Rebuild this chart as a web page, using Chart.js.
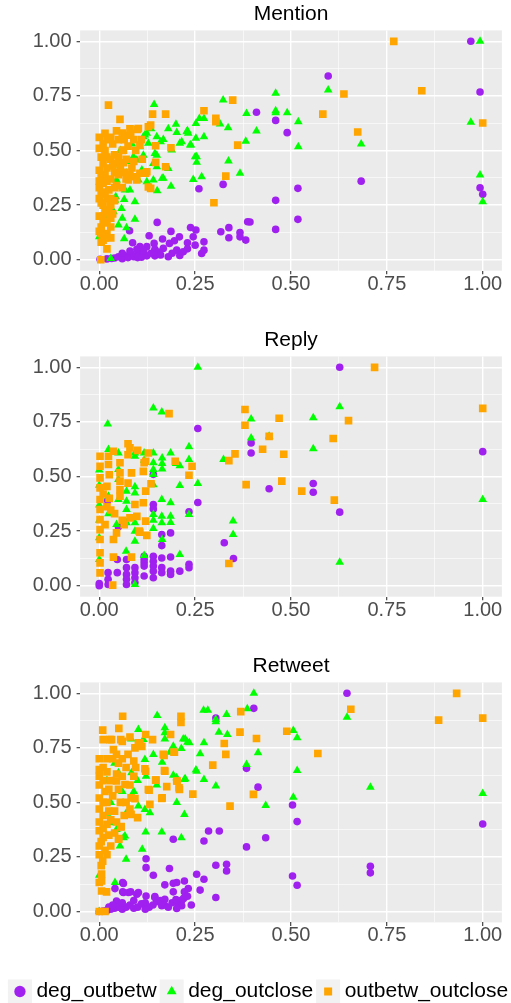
<!DOCTYPE html>
<html>
<head>
<meta charset="utf-8">
<script src="https://cdn.jsdelivr.net/npm/chart.js@4.4.1/dist/chart.umd.min.js"></script>
<style>
  html, body { margin: 0; padding: 0; background: #fff; overflow: hidden; width: 511px; height: 1003px; }
  .panel { position: absolute; left: 0; }
</style>
</head>
<body>
<div class="panel" style="top:0px"><canvas id="mention" width="511" height="326"></canvas></div>
<div class="panel" style="top:326.4px"><canvas id="reply" width="511" height="326"></canvas></div>
<div class="panel" style="top:652.4px"><canvas id="retweet" width="522" height="360"></canvas></div>
<script>
// --- data: [x, y] pairs ---
const seriesNames = ['deg_outbetw', 'deg_outclose', 'outbetw_outclose'];
const majorTicks = [0, 0.25, 0.5, 0.75, 1];
const minorTicks = [0.125, 0.375, 0.625, 0.875];

const mentionDegOutbetw = [
  [0.969,1.0],[0.597,0.841],[0.993,0.768],[0.41,0.675],[0.46,0.638],[0.49,0.582],[0.683,0.36],[0.518,0.327],
  [0.46,0.272],[0.393,0.173],[0.518,0.185],[0.46,0.139],[0.993,0.33],[1.0,0.30],
  [0.323,0.345],[0.26,0.325],[0.151,0.171],[0.387,0.174],[0.317,0.128],[0.338,0.147],[0.338,0.101],[0.367,0.125],
  [0.367,0.105],[0.382,0.09],[0.079,0.133],[0.13,0.11],[0.187,0.13],[0.165,0.095],[0.238,0.148],[0.252,0.136],
  [0.209,0.105],[0.196,0.087],[0.183,0.075],[0.143,0.075],[0.245,0.105],[0.23,0.078],[0.25,0.067],[0.273,0.082],
  [0.273,0.044],[0.267,0.029],[0.202,0.044],[0.219,0.037],[0.087,0.078],[0.002,0.002],[0.032,0.006],[0.05,0.014],
  [0.067,0.018],[0.084,0.026],[0.102,0.034],[0.124,0.06],[0.106,0.06],[0.145,0.048],[0.167,0.052],[0.18,0.014],
  [0.145,0.018],[0.124,0.018],[0.06,0.005],[0.075,0.01],[0.09,0.014],[0.11,0.012],[0.135,0.03],[0.155,0.035],
  [0.19,0.03],[0.21,0.02],[0.23,0.05],[0.04,0.008],[0.02,0.004],[0.098,0.048],[0.116,0.04],[0.06,0.03],
  [0.08,0.04],[0.16,0.022],[0.1,0.01]
];
const mentionDegOutclose = [
  [0.993,1.0],[0.597,0.777],[0.46,0.762],[0.46,0.682],[0.46,0.673],[0.49,0.673],[0.384,0.67],[0.519,0.632],
  [0.41,0.589],[0.969,0.629],[0.519,0.517],[0.683,0.53],[0.993,0.388],[1.0,0.266],[0.143,0.711],[0.323,0.731],
  [0.261,0.647],[0.273,0.647],[0.315,0.621],[0.336,0.604],[0.382,0.542],[0.367,0.396],[0.337,0.452],[0.267,0.38],
  [0.245,0.368],[0.254,0.472],[0.254,0.446],[0.239,0.525],[0.23,0.591],[0.232,0.579],[0.273,0.563],[0.252,0.556],
  [0.252,0.624],[0.215,0.54],[0.202,0.583],[0.21,0.533],[0.189,0.502],[0.167,0.551],[0.15,0.563],[0.18,0.418],
  [0.167,0.373],[0.187,0.337],[0.141,0.365],[0.151,0.316],[0.124,0.357],[0.124,0.579],[0.145,0.487],[0.141,0.441],
  [0.093,0.266],[0.093,0.186],[0.067,0.319],[0.08,0.319],[0.065,0.276],[0.058,0.235],[0.06,0.19],[0.05,0.159],
  [0.071,0.147],[0.065,0.096],[0.041,0.273],[0.037,0.22],[0.03,0.006],[0.089,0.472],[0.098,0.457],[0.106,0.517],
  [0.115,0.563],[0.045,0.365],[0.041,0.334],[0.071,0.396],[0.0,0.105],[0.119,0.571],[0.128,0.533],[0.115,0.479],
  [0.15,0.479],[0.15,0.426],[0.111,0.411],[0.102,0.365],[0.05,0.434],[0.043,0.289],[0.228,0.586],[0.237,0.525],
  [0.25,0.472],[0.164,0.373],[0.2,0.62],[0.18,0.6],[0.16,0.54],[0.135,0.6],[0.03,0.24],[0.02,0.2],
  [0.01,0.12],[0.055,0.5],[0.075,0.45],[0.085,0.53]
];
const mentionOutbetwOutclose = [
  [0.768,1.0],[0.638,0.759],[0.841,0.774],[0.583,0.667],[0.674,0.585],[1.0,0.626],[0.024,0.708],[0.054,0.643],
  [0.139,0.667],[0.173,0.667],[0.273,0.682],[0.348,0.731],[0.304,0.647],[0.304,0.632],[0.361,0.525],[0.33,0.383],
  [0.299,0.261],[0.187,0.513],[0.173,0.426],[0.147,0.522],[0.147,0.446],[0.134,0.617],[0.128,0.609],[0.102,0.601],
  [0.134,0.327],[0.128,0.333],[0.121,0.396],[0.106,0.396],[0.112,0.46],[0.106,0.525],[0.099,0.597],[0.082,0.579],
  [0.076,0.365],[0.098,0.365],[0.124,0.403],[0.063,0.444],[0.063,0.502],[0.015,0.579],[0.004,0.0],
  [0.005,0.12],[0.01,0.09],[0.005,0.15],[0.02,0.17],[0.01,0.2],[0.015,0.23],[0.005,0.26],[0.02,0.28],
  [0.03,0.25],[0.035,0.21],[0.005,0.3],[0.0,0.33],[0.01,0.35],[0.005,0.38],[0.02,0.36],[0.0,0.41],
  [0.01,0.44],[0.02,0.42],[0.005,0.47],[0.015,0.5],[0.0,0.51],[0.03,0.46],[0.04,0.48],[0.04,0.4],
  [0.035,0.53],[0.02,0.55],[0.05,0.55],[0.06,0.58],[0.06,0.5],[0.055,0.42],[0.07,0.46],[0.045,0.34],
  [0.05,0.39],[0.025,0.32],[0.03,0.15],[0.04,0.27],[0.08,0.6],[0.09,0.55],[0.075,0.52],[0.085,0.42],
  [0.09,0.38],[0.07,0.37],[0.06,0.33],[0.02,0.05],[0.03,0.1],
  [0.0,0.56],[0.01,0.53],[0.03,0.56],[0.045,0.59],[0.02,0.47],[0.035,0.43],[0.045,0.44],[0.015,0.39],
  [0.03,0.37],[0.0,0.36],[0.04,0.33],[0.015,0.31],[0.0,0.28],[0.03,0.28],[0.01,0.25],[0.025,0.22],
  [0.0,0.2],[0.01,0.17],[0.03,0.19],[0.0,0.13],[0.02,0.12],[0.015,0.1],[0.005,0.08],[0.065,0.55],
  [0.05,0.47],[0.065,0.4],[0.08,0.39],[0.075,0.57],[0.095,0.5],[0.11,0.55],[0.09,0.45]
];

const replyDegOutbetw = [
  [0.627,1.0],[0.396,0.654],[0.396,0.608],[0.443,0.444],[0.558,0.468],[0.558,0.428],[0.627,0.337],[1.0,0.614],
  [0.257,0.72],[0.257,0.381],[0.234,0.339],[0.326,0.197],[0.35,0.125],[0.141,0.372],[0.141,0.352],[0.163,0.235],
  [0.186,0.242],[0.163,0.184],[0.0,0.01],[0.0,0.0],[0.023,0.06],[0.023,0.03],[0.023,0.006],[0.047,0.12],
  [0.047,0.06],[0.071,0.12],[0.071,0.083],[0.071,0.052],[0.071,0.03],[0.071,0.006],[0.093,0.083],[0.093,0.06],
  [0.093,0.037],[0.093,0.015],[0.117,0.135],[0.117,0.12],[0.117,0.105],[0.117,0.09],[0.117,0.045],[0.141,0.135],
  [0.141,0.112],[0.141,0.09],[0.141,0.067],[0.141,0.037],[0.163,0.127],[0.163,0.083],[0.163,0.06],[0.186,0.132],
  [0.186,0.067],[0.186,0.052],[0.21,0.067],[0.234,0.098],[0.234,0.083],[0.141,0.51],[0.022,0.39],[0.05,0.27]
];
const replyDegOutclose = [
  [0.627,0.819],[0.558,0.769],[0.396,0.764],[0.396,0.677],[0.443,0.684],[0.558,0.627],[1.0,0.395],[0.627,0.108],
  [0.257,1.0],[0.141,0.814],[0.163,0.796],[0.022,0.741],[0.234,0.636],[0.234,0.578],[0.21,0.55],[0.186,0.608],
  [0.164,0.585],[0.164,0.56],[0.164,0.535],[0.141,0.608],[0.141,0.563],[0.141,0.532],[0.141,0.509],[0.141,0.463],
  [0.21,0.459],[0.257,0.468],[0.186,0.38],[0.163,0.395],[0.186,0.318],[0.186,0.29],[0.163,0.288],[0.163,0.318],
  [0.141,0.326],[0.141,0.3],[0.141,0.262],[0.164,0.212],[0.234,0.326],[0.21,0.143],[0.117,0.139],[0.093,0.204],
  [0.093,0.25],[0.093,0.288],[0.093,0.453],[0.093,0.425],[0.071,0.387],[0.071,0.433],[0.071,0.349],[0.07,0.158],
  [0.045,0.28],[0.093,0.006],[0.324,0.578],[0.349,0.296],[0.349,0.235],[0.093,0.593],[0.093,0.608],[0.117,0.608],
  [0.024,0.624],[0.05,0.608],[0.05,0.532],[0.05,0.486],[0.05,0.395],[0.0,0.53],[0.0,0.46],[0.0,0.37],
  [0.0,0.3],[0.0,0.22],[0.0,0.12],[0.024,0.41],[0.024,0.33],[0.071,0.288],[0.117,0.575],[0.2,0.56]
];
const replyOutbetwOutclose = [
  [0.718,1.0],[1.0,0.812],[0.469,0.767],[0.65,0.756],[0.443,0.684],[0.61,0.674],[0.426,0.625],[0.481,0.602],
  [0.476,0.479],[0.528,0.433],[0.613,0.392],[0.182,0.788],[0.38,0.807],[0.38,0.735],[0.354,0.604],[0.338,0.573],
  [0.383,0.463],[0.338,0.102],[0.234,0.506],[0.242,0.547],[0.198,0.57],[0.135,0.467],[0.121,0.433],[0.121,0.296],
  [0.124,0.231],[0.106,0.245],[0.084,0.131],[0.037,0.131],[0.035,0.003],[0.08,0.631],[0.128,0.608],[0.121,0.57],
  [0.115,0.524],[0.084,0.517],[0.093,0.372],[0.08,0.311],[0.098,0.318],[0.115,0.38],[0.065,0.28],[0.104,0.25],
  [0.045,0.242],[0.037,0.212],[0.117,0.563],[0.054,0.563],[0.054,0.517],[0.054,0.479],[0.054,0.44],[0.054,0.41],
  [0.024,0.593],[0.024,0.555],[0.026,0.508],[0.02,0.455],[0.026,0.4],[0.02,0.362],[0.03,0.347],[0.002,0.593],
  [0.002,0.547],[0.002,0.494],[0.002,0.448],[0.002,0.395],[0.002,0.349],[0.002,0.303],[0.002,0.257],[0.002,0.212],
  [0.002,0.151],[0.002,0.105],[0.002,0.059],[0.075,0.6],[0.075,0.65],[0.037,0.616],[0.06,0.3],[0.04,0.33],
  [0.075,0.47],[0.01,0.42],[0.015,0.28],[0.1,0.62]
];

const retweetDegOutbetw = [
  [0.646,1.0],[0.403,0.931],[0.414,0.57],[0.504,0.488],[0.516,0.412],[0.434,0.338],[0.707,0.207],[0.707,0.177],
  [0.504,0.163],[0.516,0.12],[1.0,0.401],[0.304,0.887],[0.384,0.656],[0.285,0.369],[0.313,0.369],[0.273,0.323],
  [0.193,0.331],[0.384,0.296],[0.332,0.216],[0.332,0.186],[0.304,0.212],[0.304,0.064],[0.183,0.197],[0.122,0.242],
  [0.122,0.201],[0.141,0.166],[0.254,0.171],[0.273,0.148],[0.263,0.098],[0.232,0.105],[0.222,0.14],[0.202,0.133],
  [0.193,0.129],[0.171,0.122],[0.193,0.09],[0.222,0.09],[0.214,0.048],[0.21,0.033],[0.163,0.026],[0.145,0.064],
  [0.063,0.087],[0.061,0.133],[0.045,0.048],[0.098,0.079],[0.076,0.087],[0.041,0.105],[0.063,0.128],[0.061,0.09],
  [0.082,0.09],[0.102,0.087],[0.122,0.071],[0.145,0.069],[0.171,0.056],[0.202,0.044],[0.215,0.053],[0.215,0.026],
  [0.202,0.014],[0.0,0.0],[0.01,0.002],[0.02,0.005],[0.03,0.01],[0.04,0.015],[0.05,0.02],[0.06,0.01],
  [0.07,0.02],[0.08,0.03],[0.09,0.015],[0.1,0.02],[0.11,0.035],[0.12,0.04],[0.13,0.02],[0.14,0.03],
  [0.15,0.045],[0.16,0.05],[0.17,0.03],[0.18,0.02],[0.19,0.04],[0.2,0.055],[0.22,0.06],[0.23,0.07],
  [0.24,0.03],[0.12,0.01],[0.09,0.05],[0.06,0.04],[0.035,0.03],[0.025,0.02]
];
const retweetDegOutclose = [
  [0.403,1.0],[0.646,0.89],[0.506,0.829],[0.516,0.796],[0.414,0.727],[0.516,0.646],[0.707,0.57],[0.506,0.524],
  [0.434,0.486],[1.0,0.541],[0.386,0.929],[0.272,0.922],[0.332,0.903],[0.304,0.88],[0.304,0.87],[0.151,0.898],
  [0.102,0.834],[0.171,0.842],[0.171,0.819],[0.171,0.791],[0.083,0.791],[0.115,0.788],[0.193,0.757],[0.214,0.747],
  [0.219,0.791],[0.235,0.773],[0.273,0.773],[0.312,0.822],[0.334,0.811],[0.263,0.723],[0.252,0.648],[0.273,0.605],
  [0.304,0.575],[0.384,0.674],[0.222,0.605],[0.202,0.613],[0.202,0.499],[0.222,0.445],[0.214,0.338],[0.163,0.364],
  [0.121,0.364],[0.112,0.285],[0.07,0.239],[0.041,0.133],[0.0,0.166],[0.0,0.0],[0.132,0.453],[0.102,0.483],
  [0.067,0.346],[0.141,0.72],[0.164,0.684],[0.254,0.643],[0.193,0.624],[0.224,0.608],[0.119,0.697],[0.122,0.62],
  [0.084,0.636],[0.05,0.636],[0.119,0.468],[0.063,0.338],[0.054,0.3],[0.032,0.407],[0.045,0.376],[0.184,0.73],
  [0.224,0.791],[0.23,0.776],[0.283,0.922],[0.06,0.55],[0.03,0.5],[0.02,0.45],[0.09,0.55],[0.1,0.6],
  [0.04,0.68],[0.15,0.58],[0.07,0.45],[0.02,0.6]
];
const retweetOutbetwOutclose = [
  [0.932,1.0],[0.656,0.927],[0.885,0.877],[1.0,0.886],[0.489,0.826],[0.41,0.793],[0.57,0.724],[0.402,0.537],
  [0.061,0.895],[0.009,0.831],[0.051,0.839],[0.213,0.895],[0.213,0.867],[0.369,0.916],[0.367,0.822],[0.326,0.77],
  [0.33,0.72],[0.296,0.671],[0.341,0.483],[0.244,0.538],[0.208,0.567],[0.202,0.598],[0.176,0.572],[0.164,0.521],
  [0.17,0.646],[0.169,0.715],[0.195,0.73],[0.186,0.811],[0.139,0.788],[0.121,0.811],[0.102,0.773],[0.093,0.75],
  [0.147,0.602],[0.13,0.556],[0.132,0.491],[0.119,0.654],[0.083,0.521],[0.083,0.445],[0.051,0.331],[0.056,0.387],
  [0.009,0.231],[0.0,0.133],[0.019,0.09],[0.0,0.0],[0.015,0.0],[0.028,0.788],[0.01,0.788],[0.111,0.757],
  [0.167,0.72],[0.121,0.643],[0.171,0.643],[0.148,0.602],[0.203,0.598],[0.209,0.559],[0.128,0.559],[0.093,0.517],
  [0.163,0.518],[0.067,0.582],[0.045,0.598],[0.1,0.43],[0.057,0.389],[0.05,0.334],[0.006,0.171],[0.006,0.14],
  [0.006,0.094],[0.032,0.788],[0.056,0.788],[0.106,0.773],[0.037,0.742],[0.045,0.72],[0.196,0.73],
  [0.0,0.7],[0.01,0.66],[0.0,0.62],[0.02,0.64],[0.0,0.58],[0.015,0.55],[0.0,0.52],[0.02,0.5],
  [0.0,0.47],[0.01,0.44],[0.0,0.41],[0.02,0.4],[0.0,0.37],[0.01,0.34],[0.0,0.3],[0.015,0.28],
  [0.0,0.26],[0.03,0.6],[0.035,0.53],[0.04,0.46],[0.03,0.42],[0.04,0.36],[0.03,0.3],[0.05,0.68],
  [0.06,0.62],[0.07,0.5],[0.065,0.44],[0.08,0.47],[0.09,0.62],[0.095,0.66],[0.035,0.7],[0.06,0.7],
  [0.0,0.65],[0.02,0.7],[0.01,0.6],[0.025,0.56],[0.01,0.5],[0.025,0.46],[0.01,0.38],[0.025,0.35],
  [0.005,0.32],[0.02,0.26],[0.005,0.21],[0.045,0.63],[0.05,0.56],[0.055,0.5],[0.045,0.41],[0.07,0.66],
  [0.08,0.58],[0.075,0.72],[0.06,0.78],[0.08,0.8],[0.09,0.69]
];

// --- look ---
const FONT = "'Liberation Sans', Arial, Helvetica, sans-serif";
const seriesStyle = [
  { color: '#A020F0', shape: 'circle', radius: 3.8, order: 3 },
  { color: '#00FF00', shape: 'triangle', radius: 5.0, order: 2 },
  { color: '#FFA500', shape: 'rect', radius: 5.4, order: 1 }
];
const PLOT_BOTTOM = 270.7;   // chart area bottom inside each canvas
const Y_AXIS_W = 80.1;
const PLOT_RIGHT = 501.9;

const isMajor = v => majorTicks.includes(v);
const toPoints = pts => pts.map(([x, y]) => ({ x, y }));

// grey panel + legend key backgrounds, like ggplot's theme_gray
const panelBg = {
  id: 'panelBg',
  beforeDraw(chart) {
    const { ctx, chartArea: a } = chart;
    ctx.save();
    ctx.fillStyle = '#EBEBEB';
    ctx.fillRect(a.left, a.top, a.right - a.left, a.bottom - a.top);
    if (chart.options.plugins.legend.display) {
      const boxW = chart.options.plugins.legend.labels.boxWidth;
      ctx.fillStyle = '#F2F2F2';
      chart.legend.legendHitBoxes.forEach(h => {
        const cx = h.left + boxW / 2, cy = h.top + h.height / 2;
        ctx.fillRect(cx - 12, cy - 12, 24, 24);
      });
    }
    ctx.restore();
  }
};

function axis(extra) {
  return Object.assign({
    type: 'linear',
    min: -0.05,
    max: 1.05,
    afterBuildTicks: s => {
      s.ticks = majorTicks.concat(minorTicks).sort((a, b) => a - b).map(v => ({ value: v }));
    },
    border: { display: false },
    grid: {
      color: '#FFFFFF',
      lineWidth: c => isMajor(c.tick.value) ? 1.4 : 0.6,
      tickColor: c => isMajor(c.tick.value) ? '#333333' : 'rgba(0,0,0,0)',
      tickLength: 3.5,
      tickWidth: 1.1
    }
  }, extra);
}

function drawPanel(id, title, series, withLegend) {
  const canvas = document.getElementById(id);
  const xAxisH = withLegend ? 49.6 : canvas.height - PLOT_BOTTOM;
  const rightGap = canvas.width - PLOT_RIGHT;
  new Chart(canvas, {
    type: 'scatter',
    data: {
      datasets: series.map((pts, i) => ({
        label: seriesNames[i],
        data: toPoints(pts),
        order: seriesStyle[i].order,
        pointStyle: seriesStyle[i].shape,
        pointRadius: seriesStyle[i].radius,
        pointBackgroundColor: seriesStyle[i].color,
        backgroundColor: seriesStyle[i].color,
        borderColor: seriesStyle[i].color,
        pointBorderWidth: 0,
        borderWidth: 0
      }))
    },
    options: {
      responsive: false,
      animation: false,
      devicePixelRatio: 1,
      events: [],
      layout: { padding: 0 },
      scales: {
        x: axis({
          position: 'bottom',
          afterFit: s => { s.height = xAxisH; },
          ticks: {
            autoSkip: false, maxRotation: 0, padding: 0,
            color: '#4D4D4D',
            font: { family: FONT, size: 20, lineHeight: 1 },
            callback: v => isMajor(v) ? v.toFixed(2) : ''
          }
        }),
        y: axis({
          position: 'left',
          afterFit: s => { s.width = Y_AXIS_W; },
          ticks: {
            autoSkip: false, padding: 5,
            color: '#4D4D4D',
            font: { family: FONT, size: 20 },
            callback: v => isMajor(v) ? v.toFixed(2) : ''
          }
        }),
        yGap: {
          position: 'right',
          grid: { display: false },
          border: { display: false },
          ticks: { display: false },
          afterFit: s => { s.width = rightGap; }
        }
      },
      plugins: {
        title: {
          display: true,
          text: title,
          fullSize: false,
          color: '#000000',
          font: { family: FONT, size: 21, weight: 'normal' },
          padding: { top: 2, bottom: 3.2 }
        },
        legend: {
          display: withLegend,
          position: 'bottom',
          labels: {
            usePointStyle: true,
            boxWidth: 12,
            boxHeight: 8,
            padding: 9,
            color: '#000000',
            font: { family: FONT, size: 21 },
            sort: (a, b) => a.datasetIndex - b.datasetIndex
          }
        },
        tooltip: { enabled: false }
      }
    },
    plugins: [panelBg]
  });
}

drawPanel('mention', 'Mention', [mentionDegOutbetw, mentionDegOutclose, mentionOutbetwOutclose], false);
drawPanel('reply', 'Reply', [replyDegOutbetw, replyDegOutclose, replyOutbetwOutclose], false);
drawPanel('retweet', 'Retweet', [retweetDegOutbetw, retweetDegOutclose, retweetOutbetwOutclose], true);
</script>
</body>
</html>
